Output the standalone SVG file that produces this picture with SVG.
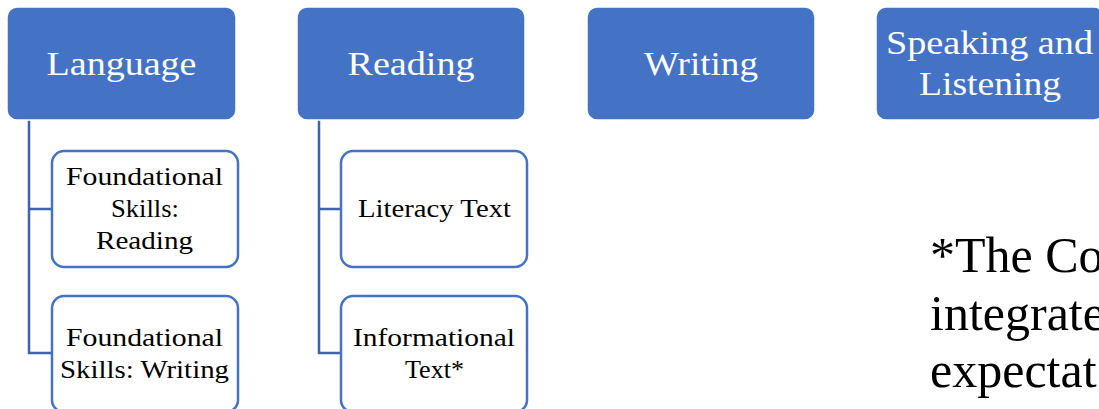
<svg xmlns="http://www.w3.org/2000/svg" width="1099" height="409" viewBox="0 0 1099 409">
<style>
.top{fill:#4472C4;stroke:#ffffff;stroke-width:1.5}
.child{fill:#ffffff;stroke:#4472C4;stroke-width:2.5}
.tt{font-family:"Liberation Serif",serif;font-size:34px;fill:#ffffff;text-anchor:middle}
.ct{font-family:"Liberation Serif",serif;font-size:26px;fill:#000000;text-anchor:middle}
.note{font-family:"Liberation Serif",serif;font-size:50px;fill:#000000}
.conn{fill:none;stroke:#3F62A8;stroke-width:2.5}
</style>
<rect width="1099" height="409" fill="#ffffff"/>
<g id="connectors">
<path class="conn" d="M29,120 V353 H52 M29,209 H52"/>
<path class="conn" d="M319,120 V353 H341 M319,209 H341"/>
</g>
<g id="language">
<rect class="top" x="7" y="7" width="229" height="113" rx="10"/>
<text class="tt" x="121.5" y="75" textLength="150" lengthAdjust="spacingAndGlyphs">Language</text>
</g>
<g id="reading">
<rect class="top" x="297" y="7" width="228" height="113" rx="10"/>
<text class="tt" x="411" y="75" textLength="127" lengthAdjust="spacingAndGlyphs">Reading</text>
</g>
<g id="writing">
<rect class="top" x="587" y="7" width="228" height="113" rx="10"/>
<text class="tt" x="701" y="75" textLength="114" lengthAdjust="spacingAndGlyphs">Writing</text>
</g>
<g id="speaking">
<rect class="top" x="876" y="7" width="228" height="113" rx="10"/>
<text class="tt" x="989.5" y="54" textLength="207" lengthAdjust="spacingAndGlyphs">Speaking and</text>
<text class="tt" x="990" y="95" textLength="142" lengthAdjust="spacingAndGlyphs">Listening</text>
</g>
<g id="fs-reading">
<rect class="child" x="52" y="151" width="186" height="116" rx="12"/>
<text class="ct" x="144.5" y="185" textLength="157" lengthAdjust="spacingAndGlyphs">Foundational</text>
<text class="ct" x="145" y="217" textLength="68" lengthAdjust="spacingAndGlyphs">Skills:</text>
<text class="ct" x="144.5" y="249" textLength="97" lengthAdjust="spacingAndGlyphs">Reading</text>
</g>
<g id="fs-writing">
<rect class="child" x="52" y="296" width="186" height="116" rx="12"/>
<text class="ct" x="144.5" y="346" textLength="157" lengthAdjust="spacingAndGlyphs">Foundational</text>
<text class="ct" x="144.5" y="378" textLength="169" lengthAdjust="spacingAndGlyphs">Skills: Writing</text>
</g>
<g id="literacy">
<rect class="child" x="341" y="151" width="186" height="116" rx="12"/>
<text class="ct" x="434.5" y="217" textLength="153" lengthAdjust="spacingAndGlyphs">Literacy Text</text>
</g>
<g id="informational">
<rect class="child" x="341" y="296" width="186" height="116" rx="12"/>
<text class="ct" x="434" y="346" textLength="162" lengthAdjust="spacingAndGlyphs">Informational</text>
<text class="ct" x="434.5" y="378" textLength="59" lengthAdjust="spacingAndGlyphs">Text*</text>
</g>
<g id="note">
<text class="note" x="930" y="272">*The Co</text>
<text class="note" x="930" y="330">integrate</text>
<text class="note" x="930" y="387">expectat</text>
</g>
</svg>
